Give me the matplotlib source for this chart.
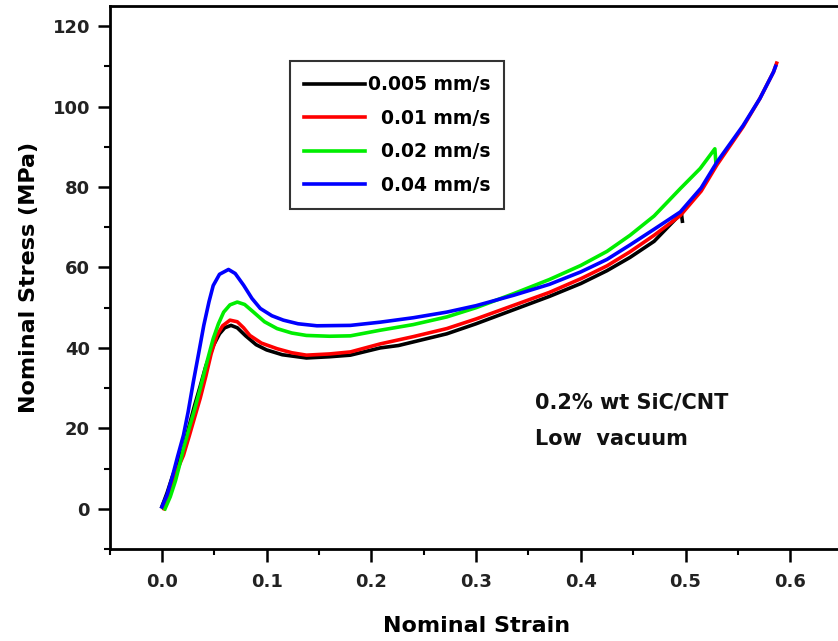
import matplotlib
matplotlib.use('Agg')
import matplotlib.pyplot as plt
from matplotlib.ticker import MultipleLocator, FormatStrFormatter

plt.rcParams['font.family'] = 'DejaVu Sans'
plt.rcParams['font.weight'] = 'bold'

# 0.005 mm/s
strain_005 = [0.0, 0.005, 0.01, 0.015, 0.0206, 0.0254, 0.031, 0.0366, 0.042, 0.049, 0.055, 0.06,
              0.066, 0.072, 0.08, 0.09, 0.10, 0.115, 0.138, 0.16, 0.18, 0.2085, 0.226, 0.272,
              0.30, 0.336, 0.37, 0.40, 0.425, 0.447, 0.47, 0.496, 0.497]
stress_005 = [0.5, 4.0, 8.0, 11.5, 15.0, 20.0, 25.5, 30.5, 35.5, 40.5, 43.5, 45.0,
              45.6, 45.0, 43.0, 40.8, 39.5, 38.3, 37.5, 37.8, 38.2, 40.0, 40.6, 43.5,
              46.0, 49.5, 52.8, 56.0, 59.2, 62.5, 66.5, 73.5, 71.5]

# 0.01 mm/s
strain_01 = [0.002, 0.006, 0.011, 0.016, 0.0206, 0.026, 0.031, 0.0366, 0.042, 0.047, 0.0525, 0.058,
             0.065, 0.072, 0.078, 0.084, 0.095, 0.11, 0.124, 0.138, 0.16, 0.18, 0.2085, 0.24,
             0.272, 0.30, 0.336, 0.37, 0.40, 0.425, 0.447, 0.47, 0.495, 0.515, 0.53, 0.555,
             0.571, 0.584, 0.587]
stress_01 = [0.0, 3.0, 7.0, 10.5, 13.3, 18.0, 22.5, 27.5, 33.0, 38.5, 43.1, 45.5,
             46.9, 46.5, 45.0, 43.1, 41.2, 39.8, 38.8, 38.2, 38.5, 39.0, 41.0, 42.8,
             44.8, 47.2, 50.6, 53.8, 57.2, 60.4, 63.9, 68.0, 72.9, 79.0, 85.5, 95.0,
             102.0, 108.6, 110.8]

# 0.02 mm/s
strain_02 = [0.003, 0.008, 0.013, 0.017, 0.0206, 0.026, 0.031, 0.0366, 0.043, 0.049, 0.054, 0.059,
             0.065, 0.072, 0.079, 0.0875, 0.098, 0.11, 0.124, 0.138, 0.16, 0.18, 0.2085, 0.24,
             0.272, 0.30, 0.336, 0.37, 0.40, 0.425, 0.447, 0.47, 0.495, 0.514, 0.528, 0.529]
stress_02 = [0.0, 3.0, 7.0, 11.0, 15.0, 20.0, 24.5, 29.9, 36.5, 42.3, 46.0, 48.9,
             50.7, 51.4, 50.8, 48.9, 46.5, 44.8, 43.7, 43.1, 42.9, 43.0, 44.4, 45.8,
             47.7, 50.0, 53.5, 57.0, 60.5, 64.0, 68.0, 72.8, 79.6, 84.6, 89.5, 86.0]

# 0.04 mm/s
strain_04 = [0.0, 0.005, 0.01, 0.015, 0.0206, 0.025, 0.03, 0.035, 0.04, 0.045, 0.049, 0.055,
             0.0636, 0.07, 0.078, 0.086, 0.094, 0.105, 0.116, 0.13, 0.148, 0.18, 0.2085, 0.24,
             0.272, 0.30, 0.336, 0.37, 0.40, 0.425, 0.447, 0.47, 0.495, 0.515, 0.53, 0.555,
             0.571, 0.584, 0.586]
stress_04 = [0.5, 3.5, 8.0, 13.0, 18.3, 24.0, 31.5, 38.5, 45.6, 51.5, 55.5, 58.3,
             59.5, 58.5, 55.6, 52.3, 49.8, 48.0, 46.9, 46.0, 45.5, 45.6, 46.4, 47.5,
             48.9, 50.5, 53.1, 55.8, 58.9, 62.0, 65.6, 69.5, 73.8, 79.8, 86.2, 95.3,
             102.0, 108.6, 110.0]

labels = ['0.005 mm/s', '  0.01 mm/s', '  0.02 mm/s', '  0.04 mm/s']
colors = ['#000000', '#ff0000', '#00ee00', '#0000ff']

fig = plt.figure(figsize=(8.38, 6.41), dpi=100)
ax = fig.add_axes([0.1307, 0.1435, 0.8748, 0.8471])

series = [(strain_005, stress_005), (strain_01, stress_01),
          (strain_02, stress_02), (strain_04, stress_04)]
for (x, y), c, lab in zip(series, colors, labels):
    ax.plot(x, y, color=c, lw=2.6, label=lab)

ax.set_xlim(-0.05, 0.65)
ax.set_ylim(-10, 125)
ax.xaxis.set_major_locator(MultipleLocator(0.1))
ax.xaxis.set_minor_locator(MultipleLocator(0.05))
ax.yaxis.set_major_locator(MultipleLocator(20))
ax.yaxis.set_minor_locator(MultipleLocator(10))
ax.xaxis.set_major_formatter(FormatStrFormatter('%.1f'))
ax.yaxis.set_major_formatter(FormatStrFormatter('%d'))

for s in ax.spines.values():
    s.set_linewidth(2.0)
ax.tick_params(which='major', direction='out', length=9, width=1.8, labelsize=13)
ax.tick_params(which='minor', direction='out', length=4.5, width=1.5)
ax.tick_params(axis='x', which='major', pad=8)
ax.tick_params(axis='y', which='major', pad=5)
ax.tick_params(top=False, right=False, which='both')
for t in ax.get_xticklabels() + ax.get_yticklabels():
    t.set_fontweight('bold')
    t.set_color('#222222')

ax.set_xlabel('Nominal Strain', fontsize=16, fontweight='bold', labelpad=18)
ax.set_ylabel('Nominal Stress (MPa)', fontsize=16, fontweight='bold', labelpad=10)

leg = ax.legend(loc='upper left', bbox_to_anchor=(0.2462, 0.8987), fontsize=13.5,
                frameon=True, fancybox=False, handlelength=3.25, handletextpad=0.15,
                borderpad=0.75, labelspacing=0.78, borderaxespad=0)
leg.get_frame().set_edgecolor('black')
leg.get_frame().set_linewidth(1.5)
for t in leg.get_texts():
    t.set_fontweight('bold')

ax.text(0.5805, 0.269, '0.2% wt SiC/CNT', transform=ax.transAxes, fontsize=15,
        fontweight='bold', va='center', color='#111111')
ax.text(0.5805, 0.203, 'Low  vacuum', transform=ax.transAxes, fontsize=15,
        fontweight='bold', va='center', color='#111111')

fig.savefig('out.png', dpi=100)
